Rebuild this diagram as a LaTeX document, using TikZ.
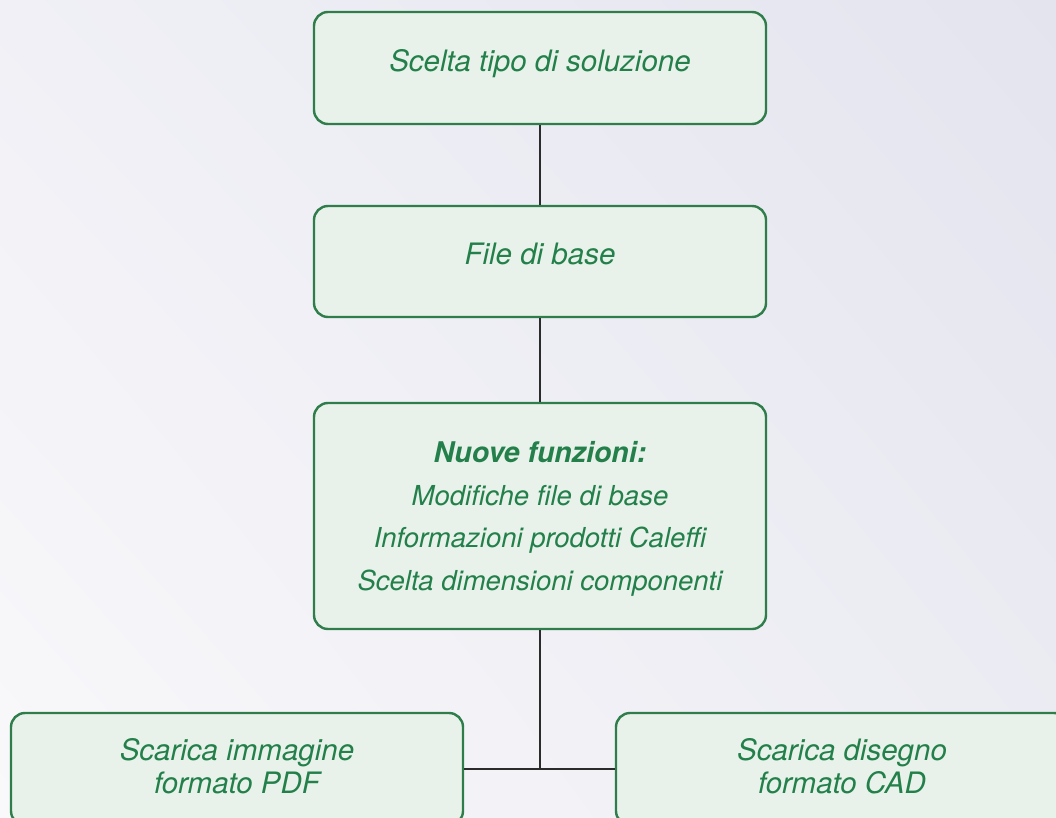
\documentclass[tikz,border=0pt]{standalone}
\usepackage{fontspec}
\setmainfont{TeX Gyre Heros}
\usetikzlibrary{shadings}
\definecolor{boxfill}{HTML}{E8F2EA}
\definecolor{boxline}{HTML}{2E7D4A}
\definecolor{txtgreen}{HTML}{23804A}
\definecolor{linkgray}{HTML}{2B2B2B}
\definecolor{bgTL}{HTML}{F0F0F6}
\definecolor{bgTR}{HTML}{E4E4EF}
\definecolor{bgBL}{HTML}{F9F9FB}
\definecolor{bgBR}{HTML}{ECECF3}
\tikzset{
  stepbox/.style={draw=boxline, line width=2.4pt, fill=boxfill,
    rounded corners=14pt, minimum width=452pt, inner sep=0pt},
  lbl/.style={text=txtgreen, inner sep=0pt, anchor=base,
    font=\fontsize{29.5}{36}\selectfont\itshape},
  lbllight/.style={lbl, font=\fontsize{27.5}{34}\selectfont\itshape},
  lblbold/.style={lbl, font=\fontsize{28.5}{34}\selectfont\bfseries\itshape},
  link/.style={draw=linkgray, line width=2.6pt}
}
\begin{document}
\begin{tikzpicture}[x=1pt, y=-1pt]
  % page frame and background wash
  \useasboundingbox (0,0) rectangle (1056,818);
  \shade[upper left=bgTL, upper right=bgTR, lower left=bgBL, lower right=bgBR]
    (0,0) rectangle (1056,818);

  \begin{scope}
    \clip (0,0) rectangle (1056,818);
    % boxes
    \node[stepbox, minimum height=112pt] (b1) at (540,68) {};
    \node[stepbox, minimum height=111pt] (b2) at (540,261.5) {};
    \node[stepbox, minimum height=226pt] (b3) at (540,516) {};
    \node[stepbox, minimum height=112pt] (b4) at (237,769) {};
    \node[stepbox, minimum height=112pt] (b5) at (842,769) {};

    % connectors
    \coordinate (fork) at (b3.south |- b4.east);
    \draw[link] (b1.south) -- (b2.north);
    \draw[link] (b2.south) -- (b3.north);
    \draw[link] (b3.south) -- (fork);
    \draw[link] (b4.east) -- (b5.west);

    % labels
    \node[lbl] (t1) at (540,72) {Scelta tipo di soluzione};
    \node[lbl] (t2) at (540,264) {File di base};
    \node[lblbold] (t3a) at (540,462) {Nuove funzioni:};
    \node[lbllight] (t3b) at (540,505) {Modifiche file di base};
    \node[lbllight] (t3c) at (540,547.5) {Informazioni prodotti Caleffi};
    \node[lbllight] (t3d) at (540,590) {Scelta dimensioni componenti};
    \node[lbl] (t4a) at (237,760) {Scarica immagine};
    \node[lbl] (t4b) at (237,793) {formato PDF};
    \node[lbl] (t5a) at (842,760) {Scarica disegno};
    \node[lbl] (t5b) at (842,793) {formato CAD};
  \end{scope}
\end{tikzpicture}
\end{document}
